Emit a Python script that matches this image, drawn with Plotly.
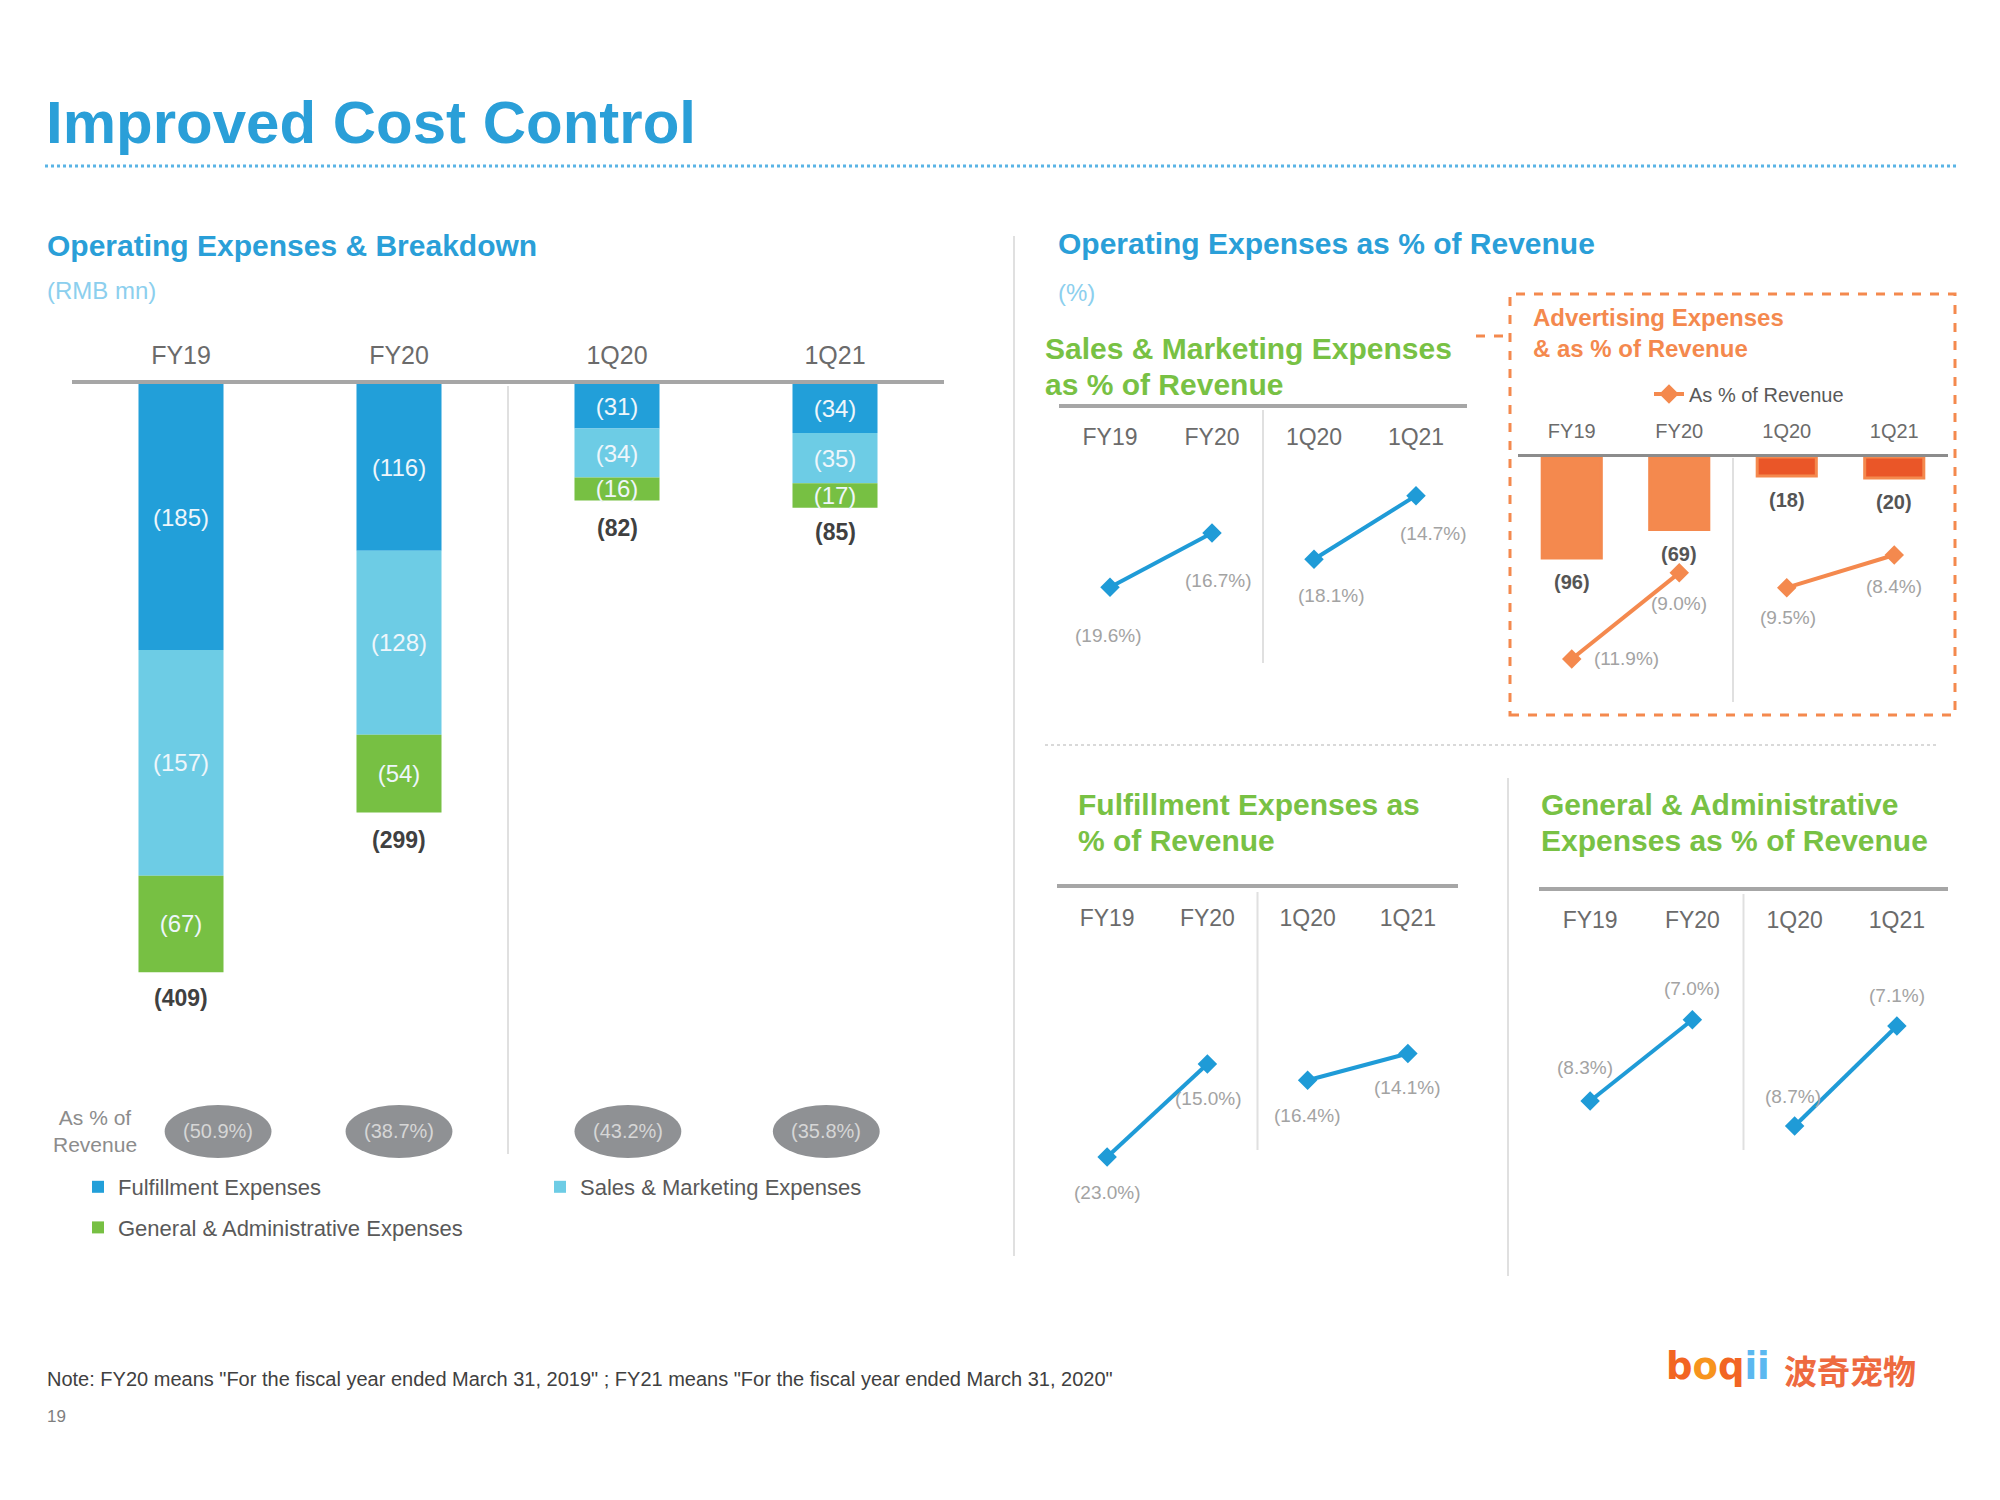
import plotly.graph_objects as go

W, H = 2000, 1500
FONT = "Liberation Sans, Arial, sans-serif"

# ---------------- data ----------------
categories = ["FY19", "FY20", "1Q20", "1Q21"]

# Operating expenses breakdown (RMB mn)
fulfillment = [185, 116, 31, 34]
sales_marketing = [157, 128, 34, 35]
general_admin = [67, 54, 16, 17]
opex_total = [409, 299, 82, 85]
opex_pct_revenue = [50.9, 38.7, 43.2, 35.8]

# Operating expenses as % of revenue
sm_pct = [19.6, 16.7, 18.1, 14.7]
adv_expense = [96, 69, 18, 20]
adv_pct = [11.9, 9.0, 9.5, 8.4]
ful_pct = [23.0, 15.0, 16.4, 14.1]
ga_pct = [8.3, 7.0, 8.7, 7.1]

# ---------------- styles ----------------
C_TITLE = "#2A9FD8"
C_SUB = "#8CCFEE"
C_GREEN_T = "#78C144"
C_FUL = "#229FD9"
C_SM = "#6DCCE5"
C_GA = "#77C043"
C_LINE = "#1F9BD7"
C_ORANGE = "#F4894E"
C_ORANGE_D = "#EA5628"
C_AXIS = "#A6A6A6"
C_DIV = "#E0E0E0"
C_CAT = "#6B6B6B"
C_PCT = "#A3A3A3"


def px(x):
    return x / W


def py(y):
    return 1 - y / H


def xdom(a, b):
    return [px(a), px(b)]


def ydom(top, bottom):
    return [py(bottom), py(top)]


def cat_axis(dom, anchor, size, lw, lc, standoff, inside):
    return dict(domain=dom, anchor=anchor, type="category", categoryorder="array",
                categoryarray=categories, range=[-0.5, 3.5], side="top",
                showline=True, linecolor=lc, linewidth=lw, ticks="",
                showgrid=False, zeroline=False, fixedrange=True,
                tickfont=dict(family=FONT, size=size, color=C_CAT),
                ticklabelposition="inside" if inside else "outside",
                ticklabelstandoff=standoff)


def val_axis(dom, anchor, rng, overlay=None):
    d = dict(domain=dom, anchor=anchor, range=rng, visible=False,
             showgrid=False, zeroline=False, fixedrange=True)
    if overlay:
        d["overlaying"] = overlay
    return d


fig = go.Figure()

# ---------------- left: stacked bars ----------------
bar_series = [
    ("Fulfillment Expenses", fulfillment, C_FUL, "legend"),
    ("Sales & Marketing Expenses", sales_marketing, C_SM, "legend3"),
    ("General & Administrative Expenses", general_admin, C_GA, "legend"),
]
for name, vals, col, lg in bar_series:
    fig.add_trace(go.Bar(
        x=categories, y=[-v for v in vals], name=name,
        marker=dict(color=col, line=dict(width=0)), width=0.39,
        text=[f"({v})" for v in vals], textposition="inside",
        insidetextanchor="middle", constraintext="none", textangle=0,
        textfont=dict(family=FONT, size=24, color="#EEF6FB"),
        xaxis="x", yaxis="y", legend=lg, legendgroup=name,
        hoverinfo="skip"))

annotations = []
shapes = []

for c, t in zip(categories, opex_total):
    annotations.append(dict(x=c, y=-t, xref="x", yref="y", text=f"<b>({t})</b>",
                            showarrow=False, xanchor="center", yanchor="middle", yshift=-26,
                            font=dict(family=FONT, size=23, color="#404040")))

# "As % of revenue" ellipses
ellipse_dx = [0.17, 0.0, 0.05, -0.04]
for i, (c, p) in enumerate(zip(categories, opex_pct_revenue)):
    cx = i + ellipse_dx[i]
    shapes.append(dict(type="circle", xref="x", yref="paper", x0=cx - 0.245, x1=cx + 0.245,
                       y0=py(1158), y1=py(1105), fillcolor="#8F9194", line=dict(width=0),
                       layer="above"))
    annotations.append(dict(x=cx, y=py(1131), xref="x", yref="paper", text=f"({p}%)",
                            showarrow=False, xanchor="center", yanchor="middle",
                            font=dict(family=FONT, size=20, color="#D6D6D6")))
annotations.append(dict(x=px(95), y=py(1131), xref="paper", yref="paper",
                        text="As % of<br>Revenue", showarrow=False, align="center",
                        xanchor="center", yanchor="middle",
                        font=dict(family=FONT, size=21, color="#8C8C8C")))

# left divider between FY and quarter
shapes.append(dict(type="line", xref="x", yref="paper", x0=1.5, x1=1.5,
                   y0=py(1154), y1=py(386), line=dict(color=C_DIV, width=2)))


# ---------------- right: line panels ----------------
def line_panel(xa, ya, vals, color, offsets, legend_name=None, legend_ref=None):
    for k, idx in enumerate(([0, 1], [2, 3])):
        fig.add_trace(go.Scatter(
            x=[categories[i] for i in idx], y=[-vals[i] for i in idx],
            mode="lines+markers", line=dict(color=color, width=4),
            marker=dict(symbol="diamond", size=15, color=color),
            xaxis=xa, yaxis=ya, cliponaxis=False, hoverinfo="skip",
            name=legend_name or "", showlegend=(legend_name is not None and k == 0),
            legend=legend_ref or "legend"))
    for i, (c, v) in enumerate(zip(categories, vals)):
        dx, dy = offsets[i]
        annotations.append(dict(x=c, y=-v, xref=xa, yref=ya, text=f"({v:.1f}%)",
                                showarrow=False, xanchor="center", yanchor="middle",
                                xshift=dx, yshift=dy,
                                font=dict(family=FONT, size=19, color=C_PCT)))


# Sales & marketing
line_panel("x2", "y2", sm_pct, C_LINE, [(-2, -48), (6, -47), (17, -36), (17, -38)])
# Fulfillment
line_panel("x5", "y5", ful_pct, C_LINE, [(0, -36), (1, -34), (0, -35), (0, -34)])
# G&A
line_panel("x6", "y6", ga_pct, C_LINE, [(-5, 34), (0, 31), (-2, 30), (0, 31)])

# Advertising bars + line
fig.add_trace(go.Bar(
    x=categories, y=[-v for v in adv_expense], width=0.55,
    marker=dict(color=[C_ORANGE, C_ORANGE, C_ORANGE_D, C_ORANGE_D],
                line=dict(color=C_ORANGE, width=3)),
    xaxis="x3", yaxis="y3", showlegend=False, hoverinfo="skip"))
for c, v in zip(categories, adv_expense):
    annotations.append(dict(x=c, y=-v, xref="x3", yref="y3", text=f"<b>({v})</b>",
                            showarrow=False, xanchor="center", yanchor="middle", yshift=-24,
                            font=dict(family=FONT, size=20, color="#555555")))
line_panel("x3", "y4", adv_pct, C_ORANGE, [(55, 0), (0, -31), (1, -30), (0, -31)],
           legend_name="As % of Revenue", legend_ref="legend2")

# panel dividers
for xa, top, bottom in (("x2", 410, 663), ("x3", 458, 702), ("x5", 892, 1150), ("x6", 894, 1150)):
    shapes.append(dict(type="line", xref=xa, yref="paper", x0=1.5, x1=1.5,
                       y0=py(bottom), y1=py(top), line=dict(color=C_DIV, width=2)))

# section frame lines
shapes += [
    dict(type="line", xref="paper", yref="paper", x0=px(45), x1=px(1958), y0=py(166), y1=py(166),
         line=dict(color="#5AB4E5", width=3, dash="dot")),
    dict(type="line", xref="paper", yref="paper", x0=px(1014), x1=px(1014), y0=py(1256), y1=py(236),
         line=dict(color=C_DIV, width=2)),
    dict(type="line", xref="paper", yref="paper", x0=px(1508), x1=px(1508), y0=py(1276), y1=py(778),
         line=dict(color=C_DIV, width=2)),
    dict(type="line", xref="paper", yref="paper", x0=px(1045), x1=px(1937), y0=py(745), y1=py(745),
         line=dict(color="#D9D9D9", width=2, dash="dot")),
    dict(type="rect", xref="paper", yref="paper", x0=px(1510), x1=px(1955), y0=py(715), y1=py(294),
         line=dict(color=C_ORANGE, width=3, dash="dash")),
    dict(type="line", xref="paper", yref="paper", x0=px(1476), x1=px(1510), y0=py(336), y1=py(336),
         line=dict(color=C_ORANGE, width=3, dash="dash")),
]


# ---------------- text ----------------
def txt(x, y, s, size, color, bold=False, anchor="left"):
    annotations.append(dict(x=px(x), y=py(y), xref="paper", yref="paper",
                            text=f"<b>{s}</b>" if bold else s, showarrow=False,
                            xanchor=anchor, yanchor="middle", align="left",
                            font=dict(family=FONT, size=size, color=color)))


txt(44, 122, "Improved Cost Control", 60, C_TITLE, bold=True)
txt(45, 245, "Operating Expenses &amp; Breakdown", 30, C_TITLE, bold=True)
txt(45, 291, "(RMB mn)", 24, C_SUB)
txt(1056, 244, "Operating Expenses as % of Revenue", 30, C_TITLE, bold=True)
txt(1056, 292, "(%)", 24, C_SUB)
txt(1043, 348, "Sales &amp; Marketing Expenses", 30, C_GREEN_T, bold=True)
txt(1043, 384, "as % of Revenue", 30, C_GREEN_T, bold=True)
txt(1531, 333, "Advertising Expenses<br>&amp; as % of Revenue", 24, C_ORANGE, bold=True)
txt(1076, 805, "Fulfillment Expenses as", 30, C_GREEN_T, bold=True)
txt(1076, 840, "% of Revenue", 30, C_GREEN_T, bold=True)
txt(1539, 805, "General &amp; Administrative", 30, C_GREEN_T, bold=True)
txt(1539, 840, "Expenses as % of Revenue", 30, C_GREEN_T, bold=True)
txt(45, 1379, 'Note: FY20 means "For the fiscal year ended March 31, 2019" ; FY21 means "For the fiscal year ended March 31, 2020"',
    20, "#404040")
txt(45, 1416, "19", 17, "#7F7F7F")

# logo
annotations.append(dict(x=px(1664), y=py(1366), xref="paper", yref="paper", xanchor="left",
                        yanchor="middle", showarrow=False,
                        text="<b><span style='color:#F26522'>b</span><span style='color:#F7941D'>o</span>"
                             "<span style='color:#F26522'>q</span><span style='color:#5BB8F0'>ii</span></b>",
                        font=dict(family="DejaVu Sans, sans-serif", size=37)))
annotations.append(dict(x=px(1782), y=py(1370), xref="paper", yref="paper", xanchor="left",
                        yanchor="middle", showarrow=False, text="<b>波奇宠物</b>",
                        font=dict(family="Noto Sans CJK SC, sans-serif", size=33, color="#EE6A40")))

# ---------------- layout ----------------
fig.update_layout(
    width=W, height=H, margin=dict(l=0, r=0, t=0, b=0),
    paper_bgcolor="white", plot_bgcolor="rgba(0,0,0,0)",
    barmode="relative", uniformtext=dict(minsize=20, mode="show"),
    font=dict(family=FONT),
    xaxis=cat_axis(xdom(72, 944), "y", 25, 4, C_AXIS, 6, False),
    yaxis=val_axis(ydom(384, 1150), "x", [-(1150 - 384) / 1.438, 0]),
    xaxis2=cat_axis(xdom(1059, 1467), "y2", 23, 4, C_AXIS, 23, True),
    yaxis2=val_axis(ydom(408, 663), "x2", [-23.647, -10.015]),
    xaxis3=cat_axis(xdom(1518, 1948), "y3", 20, 3, "#8C8C8C", 8, False),
    yaxis3=val_axis(ydom(457, 705), "x3", [-(705 - 457) / 1.052, 0]),
    yaxis4=val_axis(ydom(457, 705), "x3", [-13.449, -5.10], overlay="y3"),
    xaxis5=cat_axis(xdom(1057, 1458), "y5", 23, 4, C_AXIS, 24, True),
    yaxis5=val_axis(ydom(888, 1215), "x5", [-27.99, 0.14]),
    xaxis6=cat_axis(xdom(1539, 1948), "y6", 23, 4, C_AXIS, 23, True),
    yaxis6=val_axis(ydom(891, 1215), "x6", [-10.124, -4.94]),
    legend=dict(x=px(78), y=py(1166), xanchor="left", yanchor="top", orientation="v",
                font=dict(family=FONT, size=22, color="#595959"), tracegroupgap=9,
                bgcolor="rgba(0,0,0,0)", itemclick=False, itemdoubleclick=False),
    legend3=dict(x=px(540), y=py(1166), xanchor="left", yanchor="top", orientation="v",
                 font=dict(family=FONT, size=22, color="#595959"),
                 bgcolor="rgba(0,0,0,0)", itemclick=False, itemdoubleclick=False),
    legend2=dict(x=px(1649), y=py(394), xanchor="left", yanchor="middle", orientation="v",
                 font=dict(family=FONT, size=20, color="#595959"),
                 bgcolor="rgba(0,0,0,0)", itemclick=False, itemdoubleclick=False),
    annotations=annotations, shapes=shapes, showlegend=True,
)

fig.write_html("out.html")
